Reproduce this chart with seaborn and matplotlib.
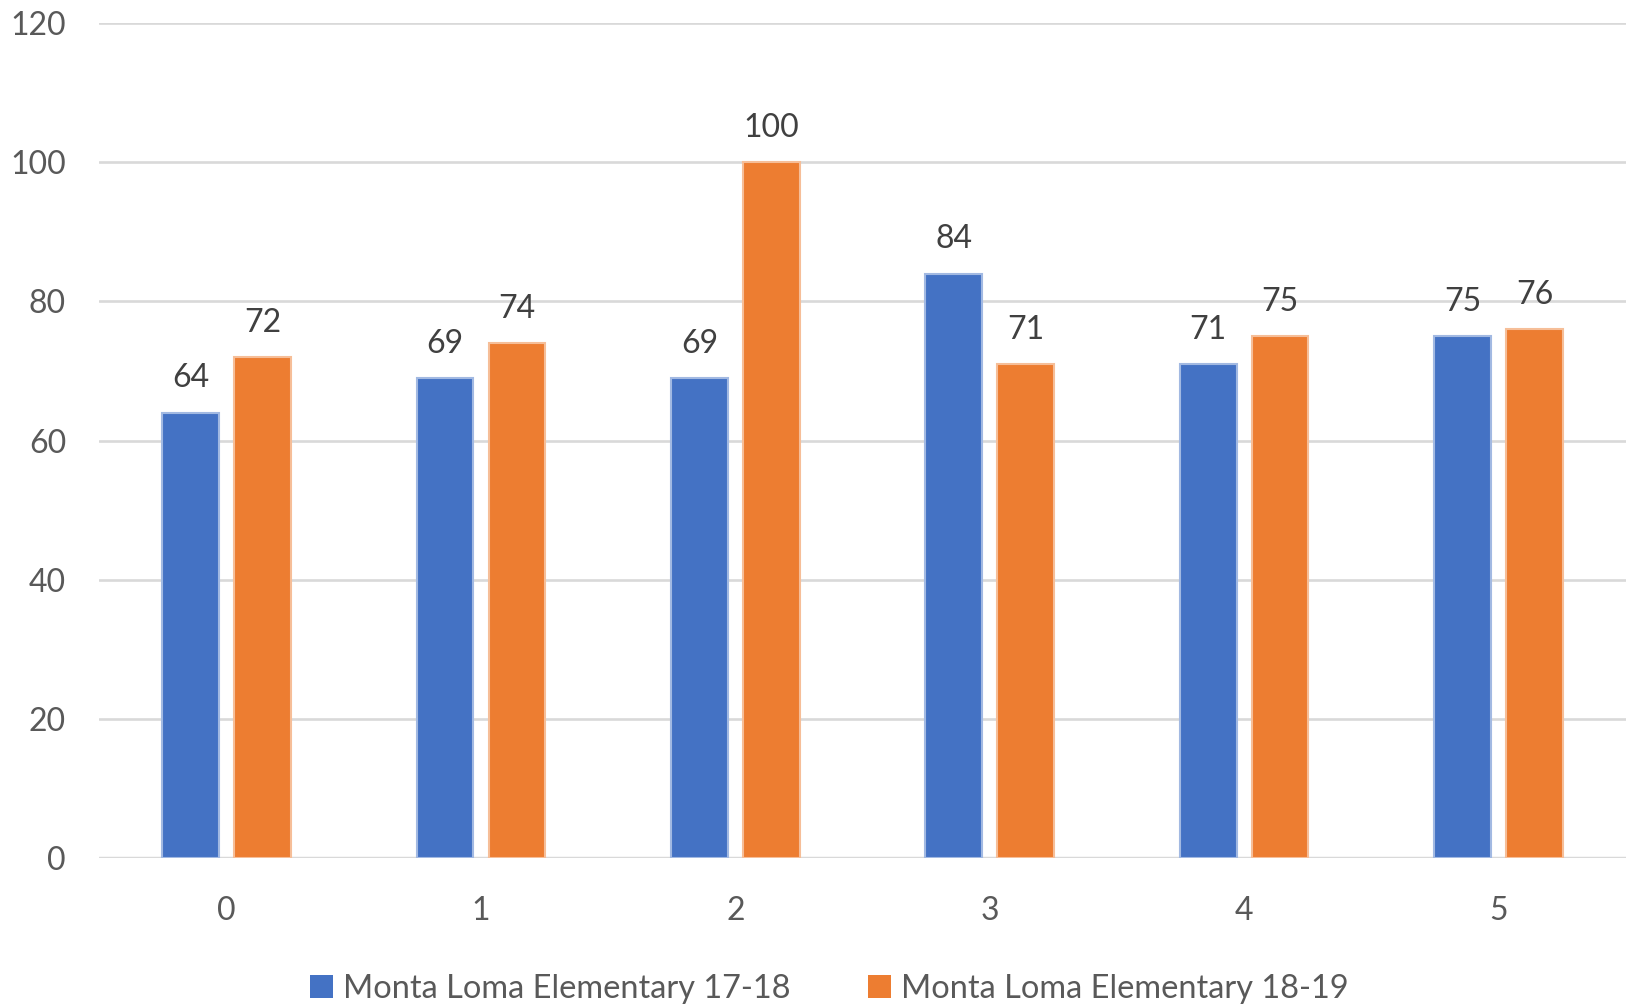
import matplotlib
matplotlib.use("Agg")
import matplotlib.pyplot as plt
import matplotlib.colors as mcolors
import seaborn as sns
import pandas as pd

categories = ["0", "1", "2", "3", "4", "5"]
series_names = ["Monta Loma Elementary 17-18", "Monta Loma Elementary 18-19"]
values_1718 = [64, 69, 69, 84, 71, 75]
values_1819 = [72, 74, 100, 71, 75, 76]
y_ticks = [0, 20, 40, 60, 80, 100, 120]

df = pd.DataFrame({
    "category": categories * 2,
    "series": [series_names[0]] * len(categories) + [series_names[1]] * len(categories),
    "value": values_1718 + values_1819,
})

sns.set_style("white")
plt.rcParams['font.family'] = ['Lato', 'DejaVu Sans']

colors = ["#4472C4", "#ED7D31"]
fig = plt.figure(figsize=(16.29, 10.06), dpi=100)
ax = fig.add_axes([0.061, 0.147, 0.937, 0.83])

sns.barplot(data=df, x="category", y="value", hue="series", order=categories,
            hue_order=series_names, palette=colors, width=0.565, gap=0.21,
            saturation=1, ax=ax, legend=True)

# lighter outline on bars
for patch in ax.patches:
    fc = mcolors.to_rgb(patch.get_facecolor())
    light = tuple(c + (1 - c) * 0.5 for c in fc)
    patch.set_edgecolor(light)
    patch.set_linewidth(1.5)

for cont in ax.containers:
    ax.bar_label(cont, fmt="%d", padding=14, fontsize=23, color="#404040")

ax.set_ylim(0, 120)
ax.set_yticks(y_ticks)
ax.set_xlim(-0.5, 5.5)
ax.yaxis.grid(True, color="#D9D9D9", linewidth=1.9)
ax.set_axisbelow(True)
for s in ax.spines.values():
    s.set_visible(False)
ax.axhline(0, color="#D9D9D9", linewidth=2.5, zorder=0.5)
ax.tick_params(axis="y", length=0, pad=24, labelsize=23, labelcolor="#595959")
ax.tick_params(axis="x", length=0, pad=27, labelsize=23, labelcolor="#595959")
ax.set_xlabel("")
ax.set_ylabel("")

leg = ax.legend(loc="center", bbox_to_anchor=(0.509, 0.017), bbox_transform=fig.transFigure,
                ncol=2, frameon=False, fontsize=23.4, handlelength=0.71, handleheight=0.71,
                handletextpad=0.29, columnspacing=2.4, labelcolor="#595959")
for h in leg.legend_handles:
    h.set_edgecolor("none")

fig.savefig("out.png", dpi=100)
